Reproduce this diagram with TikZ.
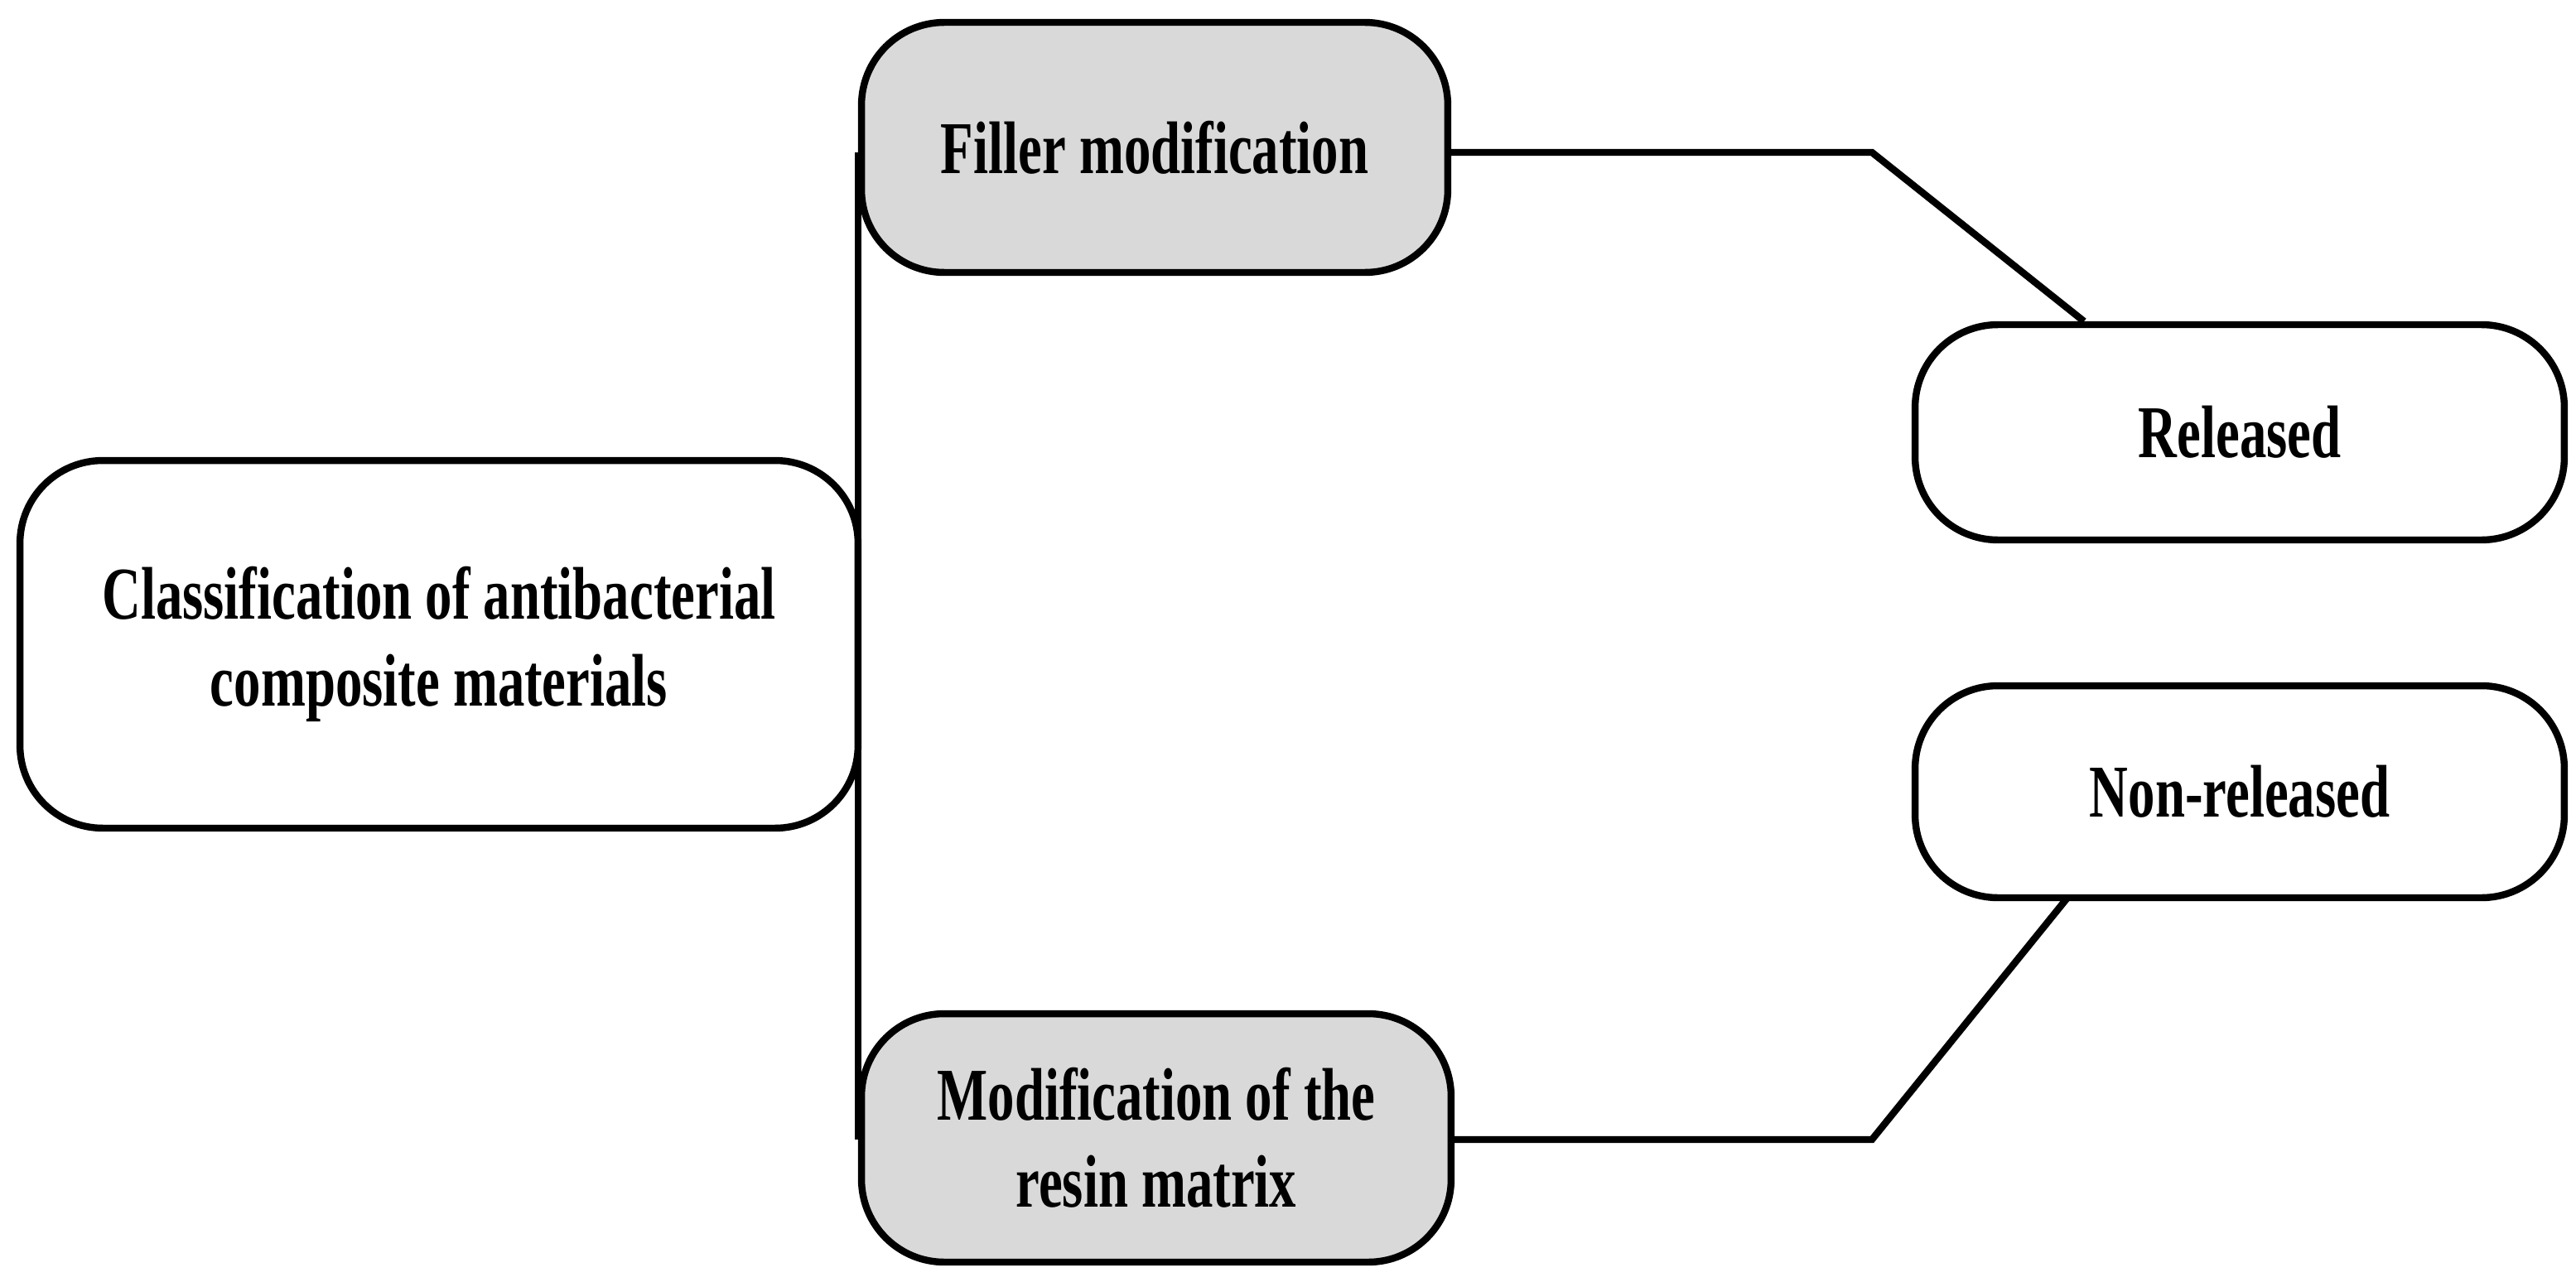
\documentclass[tikz,border=0pt]{standalone}
\usepackage{fontspec}
\setmainfont{Liberation Serif}[FakeStretch=0.72]
\begin{document}
\begin{tikzpicture}[x=0.02cm,y=-0.02cm,
  box/.style={draw=black,line width=2.4pt,rounded corners=1cm,align=center,
    font=\fontsize{25.6}{30}\selectfont\bfseries,inner sep=0pt},
  grey/.style={fill=black!15},
  ln/.style={line width=2.4pt}]
\useasboundingbox (0,0) rectangle (1555,774);
\node[box,minimum width=10.12cm,minimum height=4.44cm] (cls) at (265,389) {Classification of antibacterial\\composite materials};
\node[box,grey,minimum width=7.08cm,minimum height=3.02cm] (fil) at (697,89) {Filler modification};
\node[box,grey,minimum width=7.12cm,minimum height=3.00cm] (res) at (698,687) {Modification of the\\resin matrix};
\node[box,minimum width=7.84cm,minimum height=2.60cm] (rel) at (1352,261) {Released};
\node[box,minimum width=7.84cm,minimum height=2.56cm] (non) at (1352,478) {Non-released};
\coordinate (t) at (518,92);
\coordinate (b) at (518,688);
\coordinate (k1) at (1130,92);
\coordinate (k2) at (1130,688);
\draw[ln] (t) -- (b);
\draw[ln] (fil.east |- t) -- (k1) -- (1258,194);
\draw[ln] (res.east |- b) -- (k2) -- (1248,542);
\end{tikzpicture}
\end{document}
